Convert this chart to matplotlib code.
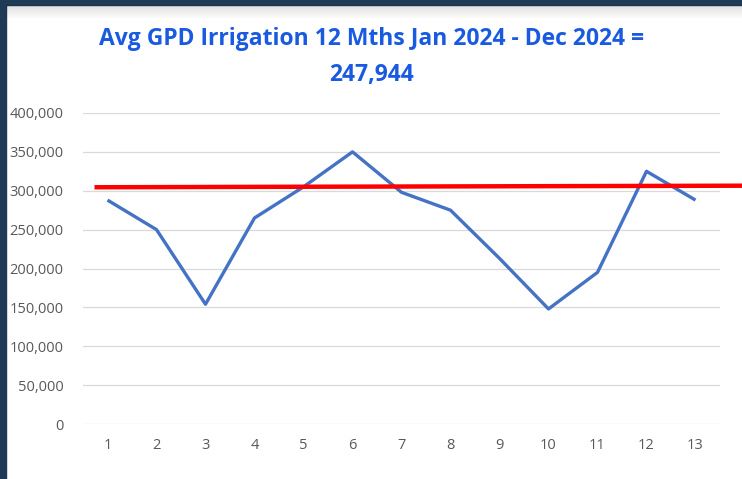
import matplotlib
matplotlib.use("Agg")
import matplotlib.pyplot as plt
from matplotlib.patches import Rectangle
import numpy as np

months = [1, 2, 3, 4, 5, 6, 7, 8, 9, 10, 11, 12, 13]
gpd = [288000, 250000, 154000, 265000, 305000, 350000, 298000, 275000, 213000, 148000, 195000, 325000, 288000]
avg_x = [0.78, 13.95]
avg_y = [304500, 306500]
title = "Avg GPD Irrigation 12 Mths Jan 2024 - Dec 2024 =\n247,944"
yticks = [0, 50000, 100000, 150000, 200000, 250000, 300000, 350000, 400000]

fig = plt.figure(figsize=(7.42, 4.79), dpi=100)
fig.patch.set_facecolor("white")

# dark border (screenshot frame)
fig.add_artist(Rectangle((0, 0), 6/742, 1, transform=fig.transFigure, color="#1E3A56", zorder=0))
fig.add_artist(Rectangle((0, 1 - 5/479), 1, 5/479, transform=fig.transFigure, color="#1E3A56", zorder=0))
# soft shadow under top border
for i in range(14):
    a = 0.12 * (1 - i/14)
    fig.add_artist(Rectangle((6/742, 1 - (6 + i)/479), 1, 1/479, transform=fig.transFigure,
                             color="black", alpha=a, lw=0, zorder=0))

ax = fig.add_axes([83/742, 1 - 424/479, (720 - 83)/742, (424 - 113)/479])
ax.set_facecolor("none")
ax.plot(months, gpd, color="#4472C4", lw=2.4, solid_capstyle="butt", zorder=3)
ax.plot(avg_x, avg_y, color="#FF0000", lw=3.2, clip_on=False, zorder=4)

ax.set_xlim(0.5, 13.5)
ax.set_ylim(0, 400000)
ax.set_yticks(yticks)
ax.set_yticklabels([f"{v:,}" for v in yticks])
ax.set_xticks(months)
ax.set_xticklabels([str(m) for m in months])
ax.grid(axis="y", color="#D9D9D9", lw=0.9)
ax.set_axisbelow(True)
for s in ax.spines.values():
    s.set_visible(False)
ax.tick_params(length=0, colors="#595959", labelsize=10.5)
ax.tick_params(axis="y", pad=14)
ax.tick_params(axis="x", pad=10)
for lab in ax.get_xticklabels() + ax.get_yticklabels():
    lab.set_fontfamily(["Open Sans", "DejaVu Sans"])

fig.text(372/742, 1 - 57/479, title, ha="center", va="center", fontsize=16.5,
         fontweight="bold", color="#1A5AE0", family=["Open Sans", "DejaVu Sans"],
         linespacing=1.65)

fig.savefig("out.png", dpi=100)
